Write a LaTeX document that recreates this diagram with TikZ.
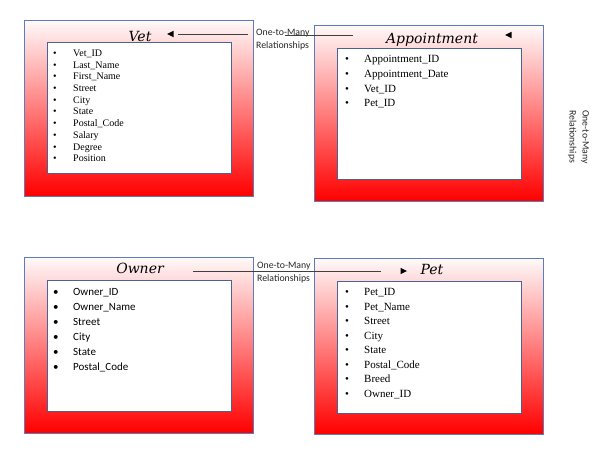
\documentclass[tikz,border=0pt]{standalone}
\usepackage{fontspec}
\setmainfont{Liberation Serif}
\newfontfamily\titlefont{DejaVu Serif}
\newfontfamily\calfont{Carlito}
\usetikzlibrary{arrows.meta}
\definecolor{outerline}{HTML}{5B7DBA}
\definecolor{innerline}{HTML}{4A6296}
\definecolor{conn}{HTML}{404040}
\tikzset{
  outerbox/.style={draw=outerline, line width=0.9pt, top color=red!2!white, bottom color=red, minimum width=229pt, minimum height=176pt, inner sep=0pt},
  innerbox/.style={draw=innerline, line width=0.8pt, fill=white, minimum width=184pt, minimum height=131pt, inner sep=0pt},
  titletext/.style={font=\titlefont\itshape\fontsize{14}{16}\selectfont, inner sep=0pt, anchor=base},
  itemlist/.style={inner sep=0pt, anchor=north west, align=left},
  reltext/.style={font=\calfont\fontsize{9.8}{13}\selectfont, text=black!85, inner sep=0pt, align=left},
  connline/.style={draw=conn, line width=0.8pt},
  tip/.style={fill=black}
}
\begin{document}
\begin{tikzpicture}[x=1pt,y=-1pt]
\useasboundingbox (0,0) rectangle (610,452);

% ---------- Vet ----------
\node[outerbox] (vet) at (138.5,108) {};
\node[innerbox] (vetin) at (139,107.5) {};
\node[titletext] (vett) at (140,41.5) {Vet};
\node[itemlist] (vetitems) at (53,48.1) {\fontsize{10}{11.7}\selectfont
\begin{tabular}{@{}p{20pt}@{}l@{}}
\textbullet & Vet\_ID\\
\textbullet & Last\_Name\\
\textbullet & First\_Name\\
\textbullet & Street\\
\textbullet & City\\
\textbullet & State\\
\textbullet & Postal\_Code\\
\textbullet & Salary\\
\textbullet & Degree\\
\textbullet & Position
\end{tabular}};

% ---------- Appointment ----------
\node[outerbox] (app) at (428.5,113) {};
\node[innerbox] (appin) at (429,113.5) {};
\node[titletext] (appt) at (432,43.3) {Appointment};
\node[itemlist] (appitems) at (345,52.4) {\fontsize{11}{14.6}\selectfont
\begin{tabular}{@{}p{19pt}@{}l@{}}
\textbullet & Appointment\_ID\\
\textbullet & Appointment\_Date\\
\textbullet & Vet\_ID\\
\textbullet & Pet\_ID
\end{tabular}};

% ---------- Owner ----------
\node[outerbox] (own) at (138.5,345) {};
\node[innerbox] (ownin) at (139,345.5) {};
\node[titletext] (ownt) at (140,273) {Owner};
\node[itemlist] (ownitems) at (53,285) {\calfont\fontsize{11}{15}\selectfont
\begin{tabular}{@{}p{20pt}@{}l@{}}
\textbullet & Owner\_ID\\
\textbullet & Owner\_Name\\
\textbullet & Street\\
\textbullet & City\\
\textbullet & State\\
\textbullet & Postal\_Code
\end{tabular}};

% ---------- Pet ----------
\node[outerbox] (pet) at (428.5,346) {};
\node[innerbox, minimum height=132pt] (petin) at (429,347) {};
\node[titletext] (pett) at (432,274) {Pet};
\node[itemlist] (petitems) at (345,285.5) {\fontsize{11}{14.5}\selectfont
\begin{tabular}{@{}p{19pt}@{}l@{}}
\textbullet & Pet\_ID\\
\textbullet & Pet\_Name\\
\textbullet & Street\\
\textbullet & City\\
\textbullet & State\\
\textbullet & Postal\_Code\\
\textbullet & Breed\\
\textbullet & Owner\_ID
\end{tabular}};

% ---------- relationship labels ----------
\node[reltext, anchor=north west] (rel1) at (256,28.5) {One-to-Many\\Relationships};
\node[reltext, anchor=north west] (rel2) at (257,261.5) {One-to-Many\\Relationships};
\node[reltext, rotate=-90] (rel3) at (578.5,137) {One-to-Many\\Relationships};

% ---------- connectors ----------
\coordinate (c1a) at (248,34);
\coordinate (c1b) at (178,34);
\draw[connline] (c1a) -- (c1b);
\fill[tip] (173.5,30.8) -- (173.5,37.2) -- (167,34) -- cycle;

\coordinate (c2a) at (285,35);
\coordinate (c2b) at (353,35);
\draw[connline] (c2a) -- (c2b);
\fill[tip] (511.5,31.8) -- (511.5,38.2) -- (505,35) -- cycle;

\coordinate (c3a) at (193,271);
\coordinate (c3b) at (381,271);
\draw[connline] (c3a) -- (c3b);
\fill[tip] (400.5,267.8) -- (400.5,274.2) -- (407,271) -- cycle;
\end{tikzpicture}
\end{document}
